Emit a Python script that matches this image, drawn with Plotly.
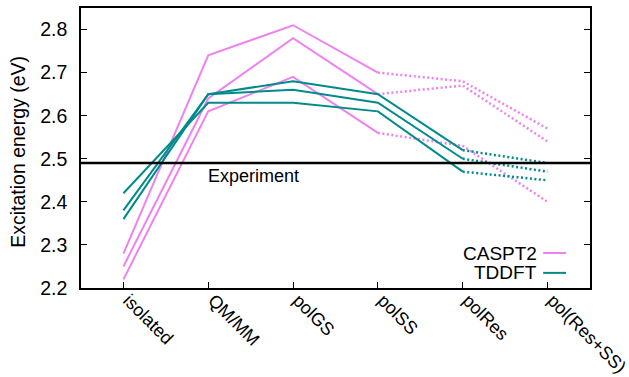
import plotly.graph_objects as go

categories = ["isolated", "QM/MM", "polGS", "polSS", "polRes", "pol(Res+SS)"]

# CASPT2 series (three variants)
caspt2_a = [2.28, 2.74, 2.81, 2.70, 2.68, 2.57]
caspt2_b = [2.25, 2.64, 2.78, 2.65, 2.67, 2.54]
caspt2_c = [2.22, 2.61, 2.69, 2.56, 2.53, 2.40]

# TDDFT series (three variants)
tddft_a = [2.36, 2.65, 2.68, 2.65, 2.52, 2.49]
tddft_b = [2.38, 2.65, 2.66, 2.63, 2.50, 2.47]
tddft_c = [2.42, 2.63, 2.63, 2.61, 2.47, 2.45]

experiment = 2.49

# index where solid part ends (inclusive), rest dotted
caspt2_solid_end = 3   # solid up to polSS
tddft_solid_end = 4    # solid up to polRes

VIOLET = "#EE82EE"
TEAL = "#008B8B"
FONT = "Liberation Sans, Arial, Helvetica, sans-serif"

xs = list(range(len(categories)))
fig = go.Figure()

def add_series(vals, color, solid_end):
    fig.add_trace(go.Scatter(x=xs[:solid_end + 1], y=vals[:solid_end + 1], mode="lines",
                             line=dict(color=color, width=2), showlegend=False,
                             hoverinfo="skip"))
    fig.add_trace(go.Scatter(x=xs[solid_end:], y=vals[solid_end:], mode="lines",
                             line=dict(color=color, width=2.5, dash="2px,2.5px"), showlegend=False,
                             hoverinfo="skip"))

for v in (caspt2_a, caspt2_b, caspt2_c):
    add_series(v, VIOLET, caspt2_solid_end)
for v in (tddft_a, tddft_b, tddft_c):
    add_series(v, TEAL, tddft_solid_end)

# experiment horizontal line
fig.add_shape(type="line", xref="paper", x0=0, x1=1, yref="y", y0=experiment, y1=experiment,
              line=dict(color="black", width=2.5))
fig.add_annotation(x=1, y=experiment - 0.03, xref="x", yref="y", text="Experiment",
                   showarrow=False, xanchor="left", yanchor="middle", xshift=-2,
                   font=dict(family=FONT, size=18, color="black"))

# y-axis title
fig.add_annotation(x=-0.124, y=0.486, xref="paper", yref="paper", text="Excitation energy (eV)",
                   showarrow=False, textangle=-90, xanchor="center", yanchor="middle",
                   font=dict(family=FONT, size=19.5, color="black"))

# manual gnuplot-style legend (text then sample)
legend_items = [("CASPT2", VIOLET), ("TDDFT", TEAL)]
legend_y = [0.125, 0.054]
for (name, color), ly in zip(legend_items, legend_y):
    fig.add_annotation(x=0.897, y=ly, xref="paper", yref="paper", text=name, showarrow=False,
                       xanchor="right", yanchor="middle", borderpad=0,
                       font=dict(family=FONT, size=19, color="black"))
    fig.add_shape(type="line", xref="paper", yref="paper", x0=0.908, x1=0.953, y0=ly, y1=ly,
                  line=dict(color=color, width=2))

fig.update_layout(
    width=629, height=377,
    margin=dict(l=81, r=39, t=8, b=89, autoexpand=False),
    plot_bgcolor="white", paper_bgcolor="white",
    font=dict(family=FONT, size=19, color="black"),
    showlegend=False,
)
fig.update_xaxes(
    range=[-0.5, len(categories) - 0.5],
    tickmode="array", tickvals=xs, ticktext=categories,
    tickangle=45, ticks="inside", ticklen=6, tickwidth=1, tickcolor="black",
    showline=True, linecolor="black", linewidth=1.5, mirror=True,
    showgrid=False, zeroline=False, ticklabeloverflow="allow", automargin=False,
    ticklabelstandoff=-7, ticklabelshift=5,
    tickfont=dict(family=FONT, size=18),
)
fig.update_yaxes(
    range=[2.2, 2.85],
    tickmode="array", tickvals=[2.2, 2.3, 2.4, 2.5, 2.6, 2.7, 2.8],
    ticktext=["2.2", "2.3", "2.4", "2.5", "2.6", "2.7", "2.8"],
    ticks="inside", ticklen=6, tickwidth=1, tickcolor="black",
    showline=True, linecolor="black", linewidth=1.5, mirror="ticks",
    showgrid=False, zeroline=False, ticklabelstandoff=8, automargin=False,
    tickfont=dict(family=FONT, size=19.5),
)

fig.write_html("out.html")
